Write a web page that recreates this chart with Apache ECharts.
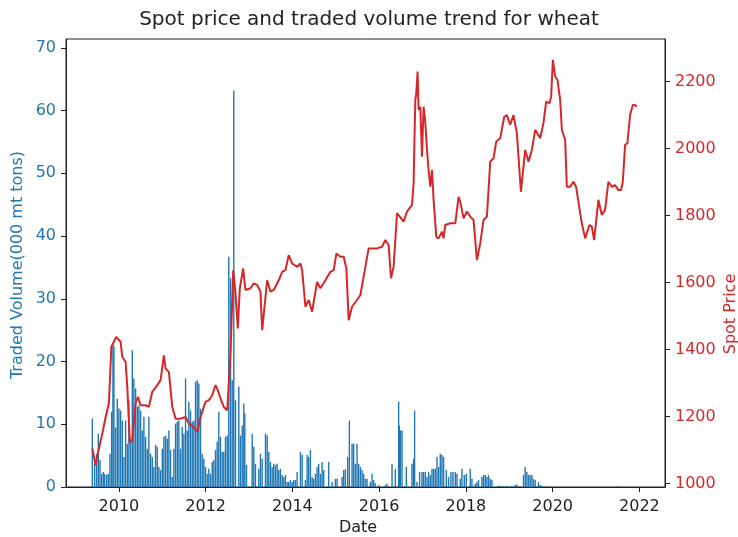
<!DOCTYPE html>
<html lang="en">
<head>
    <meta charset="UTF-8">
    <title>Spot price and traded volume trend for wheat</title>
    <script src="https://cdn.jsdelivr.net/npm/echarts@6/dist/echarts.min.js"></script>
    <style type="text/css">
    body { margin: 0; }
    .chart {
        width: 738px;
        height: 537px;
    }
    </style>
</head>
<body>
    <div id="chart" class="chart"></div>
<script type="text/javascript">
// x values are decimal years (2012.5 = mid 2012)
var xTicks = [2010, 2012, 2014, 2016, 2018, 2020, 2022]
var volumeTicks = [0, 10, 20, 30, 40, 50, 60, 70]
var priceTicks = [1000, 1200, 1400, 1600, 1800, 2000, 2200]

// spot price
var priceYears = [2009.387,2009.463,2009.539,2009.618,2009.694,2009.770,2009.825,2009.940,2010.039,2010.078,
    2010.154,2010.193,2010.253,2010.309,2010.385,2010.438,2010.500,2010.615,2010.691,2010.769,
    2010.884,2010.960,2011.036,2011.076,2011.152,2011.230,2011.306,2011.421,2011.536,2011.612,
    2011.727,2011.806,2011.882,2011.997,2012.073,2012.151,2012.227,2012.280,2012.342,2012.418,
    2012.497,2012.573,2012.635,2012.688,2012.741,2012.787,2012.865,2012.918,2013.033,2013.109,
    2013.187,2013.263,2013.303,2013.339,2013.418,2013.494,2013.570,2013.685,2013.763,2013.839,
    2013.915,2013.994,2014.109,2014.185,2014.224,2014.300,2014.376,2014.454,2014.569,2014.645,
    2014.760,2014.875,2014.952,2015.014,2015.106,2015.182,2015.244,2015.297,2015.375,2015.490,
    2015.567,2015.682,2015.758,2015.951,2016.066,2016.142,2016.218,2016.273,2016.333,2016.412,
    2016.449,2016.564,2016.642,2016.757,2016.794,2016.833,2016.856,2016.886,2016.909,2016.948,
    2016.987,2017.024,2017.063,2017.103,2017.140,2017.179,2017.218,2017.255,2017.317,2017.370,
    2017.448,2017.485,2017.524,2017.639,2017.755,2017.831,2017.870,2017.946,2018.024,2018.100,
    2018.176,2018.254,2018.330,2018.406,2018.484,2018.561,2018.637,2018.699,2018.791,2018.883,
    2018.945,2019.021,2019.097,2019.175,2019.268,2019.367,2019.443,2019.521,2019.597,2019.712,
    2019.788,2019.850,2019.926,2019.965,2020.005,2020.058,2020.111,2020.173,2020.212,2020.288,
    2020.327,2020.403,2020.479,2020.541,2020.594,2020.673,2020.749,2020.848,2020.903,2020.956,
    2021.055,2021.133,2021.209,2021.285,2021.364,2021.439,2021.515,2021.578,2021.617,2021.670,
    2021.723,2021.785,2021.847,2021.900,2021.939]
var priceValues = [1105,1055,1105,1150,1199,1240,1408,1438,1423,1378,
    1363,1289,1120,1134,1240,1259,1234,1234,1229,1274,
    1294,1309,1383,1344,1333,1229,1194,1194,1199,1179,
    1169,1154,1199,1244,1249,1264,1294,1279,1254,1229,
    1219,1389,1637,1568,1463,1583,1642,1578,1583,1598,
    1593,1573,1458,1463,1607,1573,1578,1607,1632,1637,
    1682,1657,1647,1657,1637,1528,1548,1513,1602,1583,
    1607,1632,1637,1687,1677,1677,1642,1488,1528,1548,
    1563,1647,1702,1702,1707,1727,1712,1613,1647,1807,
    1812,1782,1812,1832,1896,2145,2165,2230,2115,2125,
    1976,2125,2080,1996,1936,1886,1936,1847,1737,1732,
    1752,1732,1772,1777,1777,1856,1841,1792,1812,1797,
    1787,1667,1717,1787,1797,1961,1971,2021,2031,2095,
    2100,2071,2100,2046,1871,1996,1961,1996,2056,2031,
    2076,2140,2135,2155,2265,2215,2205,2145,2056,2026,
    1886,1886,1901,1886,1841,1777,1732,1772,1767,1727,
    1847,1802,1817,1901,1886,1891,1876,1876,1901,2011,
    2016,2100,2130,2130,2125]

// traded volume (000 mt tons)
var volumeYears = [2009.387,2009.440,2009.486,2009.525,2009.563,2009.602,2009.640,2009.671,2009.717,2009.755,
    2009.793,2009.832,2009.862,2009.885,2009.924,2009.963,2010.000,2010.039,2010.078,2010.115,
    2010.154,2010.193,2010.230,2010.269,2010.309,2010.345,2010.385,2010.424,2010.461,2010.500,
    2010.539,2010.576,2010.615,2010.654,2010.691,2010.730,2010.769,2010.806,2010.845,2010.884,
    2010.921,2010.960,2011.000,2011.036,2011.076,2011.115,2011.152,2011.191,2011.230,2011.267,
    2011.306,2011.345,2011.382,2011.421,2011.460,2011.497,2011.536,2011.575,2011.612,2011.651,
    2011.690,2011.727,2011.766,2011.806,2011.842,2011.882,2011.921,2011.958,2011.997,2012.036,
    2012.073,2012.112,2012.151,2012.188,2012.227,2012.266,2012.303,2012.342,2012.381,2012.418,
    2012.457,2012.497,2012.533,2012.573,2012.612,2012.648,2012.688,2012.764,2012.803,2012.842,
    2012.879,2012.902,2012.941,2013.072,2013.109,2013.148,2013.224,2013.263,2013.303,2013.379,
    2013.418,2013.455,2013.494,2013.533,2013.570,2013.609,2013.648,2013.685,2013.724,2013.763,
    2013.800,2013.839,2013.878,2013.915,2013.954,2013.994,2014.030,2014.070,2014.109,2014.185,
    2014.224,2014.300,2014.339,2014.376,2014.415,2014.454,2014.491,2014.530,2014.569,2014.606,
    2014.645,2014.684,2014.721,2014.836,2014.915,2014.991,2015.030,2015.145,2015.182,2015.221,
    2015.274,2015.313,2015.375,2015.412,2015.451,2015.490,2015.527,2015.567,2015.606,2015.643,
    2015.682,2015.721,2015.797,2015.836,2015.873,2015.912,2015.988,2016.142,2016.181,2016.297,
    2016.373,2016.449,2016.465,2016.488,2016.527,2016.626,2016.757,2016.794,2016.817,2016.872,
    2016.932,2016.987,2017.024,2017.063,2017.103,2017.140,2017.179,2017.218,2017.255,2017.294,
    2017.333,2017.370,2017.409,2017.448,2017.485,2017.547,2017.600,2017.655,2017.701,2017.755,
    2017.794,2017.870,2017.909,2017.962,2018.008,2018.100,2018.139,2018.215,2018.254,2018.291,
    2018.369,2018.406,2018.445,2018.484,2018.521,2018.561,2018.600,2018.752,2018.791,2018.867,
    2018.945,2019.060,2019.136,2019.175,2019.327,2019.367,2019.406,2019.443,2019.482,2019.521,
    2019.558,2019.597,2019.673,2019.712,2019.751,2019.827,2021.478]
var volumeValues = [10.9,3.7,5.3,8.5,4.3,2.1,2.4,2.1,1.9,2.1,
    5.3,12.0,22.9,22.4,9.5,14.1,12.5,12.2,10.6,4.8,
    10.6,6.9,13.8,6.9,21.8,17.3,15.7,12.8,13.0,12.2,
    9.0,11.2,8.0,6.1,11.2,5.3,4.8,3.2,6.7,6.4,
    3.2,2.7,6.1,8.0,8.2,7.7,9.0,5.9,1.6,6.1,
    10.1,10.4,10.6,6.1,9.6,8.5,17.3,9.0,13.6,12.2,
    10.4,10.6,16.8,17.0,16.5,12.5,5.3,4.5,3.2,2.1,
    2.9,2.1,4.0,4.3,5.9,7.2,12.0,8.0,5.6,5.6,
    8.0,8.2,36.7,33.3,17.0,63.2,13.8,16.0,8.2,9.8,
    13.3,11.7,3.5,8.5,6.4,3.7,2.9,5.3,4.5,8.5,
    8.2,5.6,4.0,3.2,3.7,3.5,3.7,2.7,2.9,1.9,
    1.6,1.9,0.8,0.8,1.1,0.8,1.1,1.1,2.4,5.6,
    5.1,1.1,5.1,4.8,5.9,1.6,1.3,2.1,3.2,3.7,
    2.1,4.0,2.7,4.0,0.8,1.3,1.3,1.6,2.7,2.8,
    4.8,10.6,6.9,6.9,3.7,6.9,3.7,3.2,2.7,2.1,
    1.3,1.3,0.8,2.1,1.1,0.6,0.3,0.3,0.5,3.7,
    2.9,13.6,9.8,9.0,9.0,3.2,3.7,4.5,12.2,0.8,
    2.4,2.4,2.4,2.4,1.6,2.4,1.9,2.9,2.9,2.9,
    4.8,3.2,5.3,5.1,4.8,2.7,1.6,2.4,2.4,2.4,
    2.1,1.3,2.9,1.9,2.1,2.9,1.3,0.5,0.8,1.1,
    1.6,1.9,1.9,1.6,1.9,1.3,1.1,0.2,0.2,0.2,
    0.2,0.2,0.3,0.4,1.9,3.2,2.4,1.9,1.9,1.9,
    1.3,1.1,0.8,0.3,0.2,0.1,0.1]

var blue = '#1f77b4'
var red = '#d62728'
var ink = '#222'
var font = 'DejaVu Sans'

var priceData = priceYears.map(function (t, i) { return [t, priceValues[i]] })
var volumeData = volumeYears.map(function (t, i) { return [t, volumeValues[i]] })

var myChart = echarts.init(document.getElementById('chart'))

var option = {
    animation: false,
    backgroundColor: '#fff',
    title: {
        text: 'Spot price and traded volume trend for wheat',
        left: 364,
        textAlign: 'center',
        top: 5,
        textStyle: { fontFamily: font, fontSize: 20, fontWeight: 'normal', color: ink }
    },
    grid: {
        left: 66, right: 73, top: 39, bottom: 50,
        outerBoundsMode: 'none',
        show: true, borderColor: ink, borderWidth: 1
    },
    xAxis: {
        type: 'value',
        min: 2008.78,
        max: 2022.59,
        splitLine: { show: false },
        axisLine: { show: true, lineStyle: { color: ink } },
        axisTick: { show: true, length: 5, lineStyle: { color: ink }, customValues: xTicks },
        axisLabel: {
            fontFamily: font, fontSize: 16, color: ink, margin: 12,
            customValues: xTicks,
            formatter: function (v) { return String(Math.round(v)) }
        }
    },
    yAxis: [
        {
            type: 'value',
            min: 0,
            max: 71.4,
            position: 'left',
            splitLine: { show: false },
            axisLine: { show: true, lineStyle: { color: ink } },
            axisTick: { show: true, length: 5, lineStyle: { color: ink }, customValues: volumeTicks },
            axisLabel: {
                fontFamily: font, fontSize: 16, color: blue, margin: 10,
                customValues: volumeTicks,
                formatter: function (v) { return String(Math.round(v)) }
            }
        },
        {
            type: 'value',
            min: 990,
            max: 2327,
            position: 'right',
            splitLine: { show: false },
            axisLine: { show: true, lineStyle: { color: ink } },
            axisTick: { show: true, length: 5, lineStyle: { color: ink }, customValues: priceTicks },
            axisLabel: {
                fontFamily: font, fontSize: 16, color: red, margin: 10,
                customValues: priceTicks,
                formatter: function (v) { return String(Math.round(v)) }
            }
        }
    ],
    graphic: [
        {
            type: 'text',
            x: 358, y: 528,
            style: {
                text: 'Date',
                font: '16px "DejaVu Sans"',
                fill: ink,
                align: 'center',
                verticalAlign: 'middle'
            }
        },
        {
            type: 'text',
            x: 18, y: 265,
            rotation: Math.PI / 2,
            style: {
                text: 'Traded Volume(000 mt tons)',
                font: '16px "DejaVu Sans"',
                fill: blue,
                align: 'center',
                verticalAlign: 'middle'
            }
        },
        {
            type: 'text',
            x: 731, y: 314,
            rotation: Math.PI / 2,
            style: {
                text: 'Spot Price',
                font: '16px "DejaVu Sans"',
                fill: red,
                align: 'center',
                verticalAlign: 'middle'
            }
        }
    ],
    series: [
        {
            name: 'Traded Volume',
            type: 'bar',
            yAxisIndex: 0,
            barWidth: 1.4,
            itemStyle: { color: blue },
            data: volumeData,
            z: 2
        },
        {
            name: 'Spot Price',
            type: 'line',
            yAxisIndex: 1,
            showSymbol: false,
            lineStyle: { color: red, width: 2 },
            data: priceData,
            z: 3
        }
    ]
}
myChart.setOption(option)
</script>
</body>
</html>
